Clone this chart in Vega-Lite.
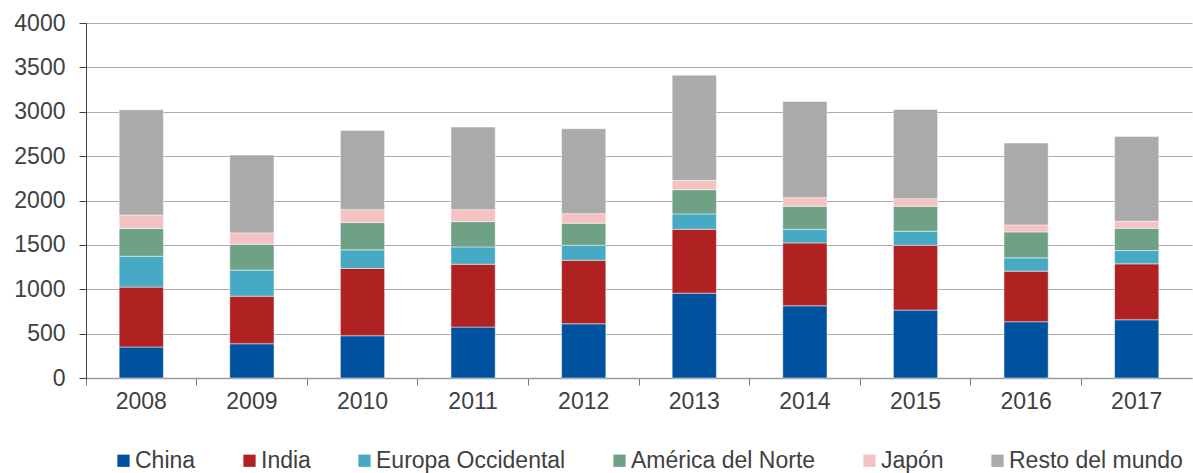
{
  "$schema": "https://vega.github.io/schema/vega-lite/v6.json",
  "autosize": {"type": "none"},
  "width": 1106,
  "height": 355,
  "padding": {"left": 86, "top": 23, "right": 1, "bottom": 95},
  "background": "white",
  "config": {
    "font": "Liberation Sans",
    "view": {"stroke": null},
    "axis": {"labelFont": "Liberation Sans", "labelFontSize": 23, "labelColor": "#404040", "title": null}
  },
  "datasets": {
    "d": [
      {"anio": "2008", "serie": "China", "orden": 1, "valor": 349},
      {"anio": "2008", "serie": "India", "orden": 2, "valor": 675},
      {"anio": "2008", "serie": "Europa Occidental", "orden": 3, "valor": 348},
      {"anio": "2008", "serie": "América del Norte", "orden": 4, "valor": 312},
      {"anio": "2008", "serie": "Japón", "orden": 5, "valor": 153},
      {"anio": "2008", "serie": "Resto del mundo", "orden": 6, "valor": 1185},
      {"anio": "2009", "serie": "China", "orden": 1, "valor": 386},
      {"anio": "2009", "serie": "India", "orden": 2, "valor": 536},
      {"anio": "2009", "serie": "Europa Occidental", "orden": 3, "valor": 293},
      {"anio": "2009", "serie": "América del Norte", "orden": 4, "valor": 292},
      {"anio": "2009", "serie": "Japón", "orden": 5, "valor": 128},
      {"anio": "2009", "serie": "Resto del mundo", "orden": 6, "valor": 877},
      {"anio": "2010", "serie": "China", "orden": 1, "valor": 476},
      {"anio": "2010", "serie": "India", "orden": 2, "valor": 758},
      {"anio": "2010", "serie": "Europa Occidental", "orden": 3, "valor": 210},
      {"anio": "2010", "serie": "América del Norte", "orden": 4, "valor": 307},
      {"anio": "2010", "serie": "Japón", "orden": 5, "valor": 146},
      {"anio": "2010", "serie": "Resto del mundo", "orden": 6, "valor": 893},
      {"anio": "2011", "serie": "China", "orden": 1, "valor": 574},
      {"anio": "2011", "serie": "India", "orden": 2, "valor": 708},
      {"anio": "2011", "serie": "Europa Occidental", "orden": 3, "valor": 195},
      {"anio": "2011", "serie": "América del Norte", "orden": 4, "valor": 285},
      {"anio": "2011", "serie": "Japón", "orden": 5, "valor": 135},
      {"anio": "2011", "serie": "Resto del mundo", "orden": 6, "valor": 930},
      {"anio": "2012", "serie": "China", "orden": 1, "valor": 611},
      {"anio": "2012", "serie": "India", "orden": 2, "valor": 716},
      {"anio": "2012", "serie": "Europa Occidental", "orden": 3, "valor": 169},
      {"anio": "2012", "serie": "América del Norte", "orden": 4, "valor": 248},
      {"anio": "2012", "serie": "Japón", "orden": 5, "valor": 108},
      {"anio": "2012", "serie": "Resto del mundo", "orden": 6, "valor": 957},
      {"anio": "2013", "serie": "China", "orden": 1, "valor": 956},
      {"anio": "2013", "serie": "India", "orden": 2, "valor": 720},
      {"anio": "2013", "serie": "Europa Occidental", "orden": 3, "valor": 173},
      {"anio": "2013", "serie": "América del Norte", "orden": 4, "valor": 273},
      {"anio": "2013", "serie": "Japón", "orden": 5, "valor": 105},
      {"anio": "2013", "serie": "Resto del mundo", "orden": 6, "valor": 1185},
      {"anio": "2014", "serie": "China", "orden": 1, "valor": 814},
      {"anio": "2014", "serie": "India", "orden": 2, "valor": 708},
      {"anio": "2014", "serie": "Europa Occidental", "orden": 3, "valor": 154},
      {"anio": "2014", "serie": "América del Norte", "orden": 4, "valor": 259},
      {"anio": "2014", "serie": "Japón", "orden": 5, "valor": 97},
      {"anio": "2014", "serie": "Resto del mundo", "orden": 6, "valor": 1084},
      {"anio": "2015", "serie": "China", "orden": 1, "valor": 765},
      {"anio": "2015", "serie": "India", "orden": 2, "valor": 731},
      {"anio": "2015", "serie": "Europa Occidental", "orden": 3, "valor": 158},
      {"anio": "2015", "serie": "América del Norte", "orden": 4, "valor": 281},
      {"anio": "2015", "serie": "Japón", "orden": 5, "valor": 86},
      {"anio": "2015", "serie": "Resto del mundo", "orden": 6, "valor": 1005},
      {"anio": "2016", "serie": "China", "orden": 1, "valor": 634},
      {"anio": "2016", "serie": "India", "orden": 2, "valor": 570},
      {"anio": "2016", "serie": "Europa Occidental", "orden": 3, "valor": 150},
      {"anio": "2016", "serie": "América del Norte", "orden": 4, "valor": 292},
      {"anio": "2016", "serie": "Japón", "orden": 5, "valor": 79},
      {"anio": "2016", "serie": "Resto del mundo", "orden": 6, "valor": 922},
      {"anio": "2017", "serie": "China", "orden": 1, "valor": 656},
      {"anio": "2017", "serie": "India", "orden": 2, "valor": 630},
      {"anio": "2017", "serie": "Europa Occidental", "orden": 3, "valor": 150},
      {"anio": "2017", "serie": "América del Norte", "orden": 4, "valor": 251},
      {"anio": "2017", "serie": "Japón", "orden": 5, "valor": 79},
      {"anio": "2017", "serie": "Resto del mundo", "orden": 6, "valor": 956}
    ]
  },
  "data": {"name": "d"},
  "mark": {"type": "bar", "stroke": "white", "strokeWidth": 0.8, "strokeOpacity": 0.6},
  "encoding": {
    "x": {
      "field": "anio",
      "type": "ordinal",
      "scale": {"paddingInner": 0.6, "paddingOuter": 0.3},
      "axis": {
        "labelAngle": 0,
        "bandPosition": -0.75,
        "domainColor": "#9a9a9a",
        "domainWidth": 1.5,
        "tickColor": "#7a7a7a",
        "tickSize": 7,
        "labelPadding": 5,
        "grid": false
      }
    },
    "y": {
      "field": "valor",
      "type": "quantitative",
      "stack": "zero",
      "scale": {"domain": [0, 4000], "nice": false},
      "axis": {
        "values": [0, 500, 1000, 1500, 2000, 2500, 3000, 3500, 4000],
        "format": "d",
        "domainColor": "#404040",
        "tickColor": "#404040",
        "tickSize": 7,
        "labelPadding": 14,
        "grid": true,
        "gridColor": "#ababab",
        "gridWidth": 1
      }
    },
    "color": {
      "field": "serie",
      "type": "nominal",
      "sort": ["China", "India", "Europa Occidental", "América del Norte", "Japón", "Resto del mundo"],
      "scale": {
        "domain": ["China", "India", "Europa Occidental", "América del Norte", "Japón", "Resto del mundo"],
        "range": ["#00529f", "#b02222", "#47aac5", "#6fa186", "#f4c2c3", "#aaaaaa"]
      },
      "legend": {
        "title": null,
        "orient": "none",
        "direction": "horizontal",
        "legendX": 26,
        "legendY": 426,
        "symbolType": "square",
        "symbolSize": 150,
        "symbolStrokeWidth": 0,
        "symbolOpacity": 1,
        "labelFont": "Liberation Sans",
        "labelFontSize": 23,
        "labelColor": "#404040",
        "labelOffset": 0,
        "columnPadding": 42,
        "labelLimit": 400
      }
    },
    "order": {"field": "orden", "type": "quantitative", "sort": "ascending"}
  }
}
